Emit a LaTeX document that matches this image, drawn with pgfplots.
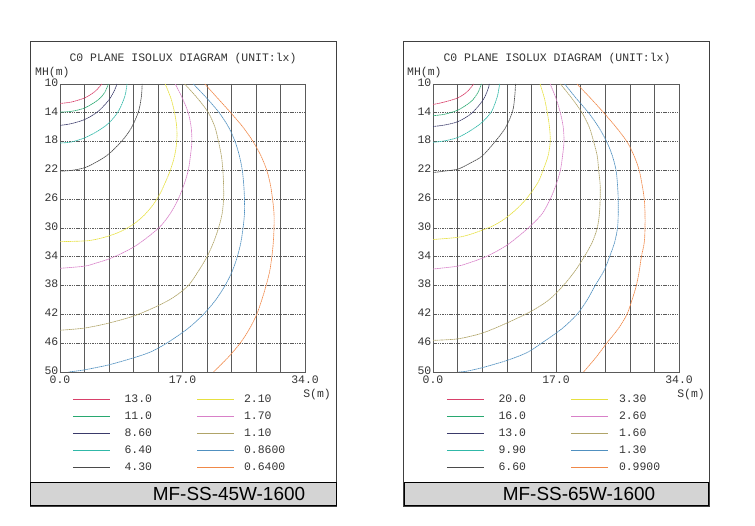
\documentclass[border=0pt]{standalone}
\usepackage{fontspec}
\setmainfont{Liberation Mono}
\newfontfamily\labelfont{Liberation Sans}
\usepackage{pgfplots}
\pgfplotsset{compat=1.18}

\definecolor{gridgray}{HTML}{5A5A5A}
\definecolor{textgray}{HTML}{333333}
\definecolor{framegray}{HTML}{404040}
\definecolor{bargray}{HTML}{D4D4D4}
\definecolor{isoA}{HTML}{D8406A}
\definecolor{isoB}{HTML}{28A870}
\definecolor{isoC}{HTML}{3A3A6A}
\definecolor{isoD}{HTML}{30B8A8}
\definecolor{isoE}{HTML}{4A4A4A}
\definecolor{isoF}{HTML}{E6E040}
\definecolor{isoG}{HTML}{D880C8}
\definecolor{isoH}{HTML}{B0A468}
\definecolor{isoI}{HTML}{5090C0}
\definecolor{isoJ}{HTML}{F08848}

\newcommand{\monosize}{\fontsize{11.5}{13}\selectfont}
\newcommand{\leftentry}[1]{\hspace*{14bp}\makebox[72bp][l]{#1}}
\newcommand{\rightentry}[2]{\hspace*{#1}\makebox[50bp][l]{#2}}

\pgfplotsset{
  isopanel/.style={
    scale only axis, height=288bp,
    xmin=0, xmax=34, ymin=10, ymax=50, y dir=reverse,
    xtick={0,17,34}, xticklabels={0.0,17.0,34.0},
    minor xtick={3.4,6.8,10.2,13.6,20.4,23.8,27.2,30.6},
    ytick={10,14,18,22,26,30,34,38,42,46,50},
    yticklabels={10,14,18,22,26,30,34,38,42,46,50},
    grid=both,
    major tick length=0pt, minor tick length=0pt,
    axis line style={draw=gridgray, line width=0.6bp},
    x grid style={draw=gridgray, line width=0.6bp},
    y grid style={draw=gridgray, line width=0.6bp, dash pattern=on 1.5bp off 0.8bp},
    tick label style={font=\monosize, text=textgray},
    yticklabel style={inner xsep=1.5bp, yshift=1.5bp},
    legend columns=2,
    legend style={draw=none, fill=none, inner sep=0pt, column sep=0pt, row sep=10bp,
      anchor=north west,
      nodes={inner sep=0pt, text height=7bp, text depth=0pt, font=\monosize, text=textgray}},
    legend image code/.code={\draw[#1, solid, line width=1.4bp] (0bp,0bp) -- (37bp,0bp);},
    every axis plot/.append style={line width=0.65bp, smooth, tension=0.5, no marks,
      dash pattern=on 1.6bp off 0.5bp},
  }
}

\begin{document}
\begin{tikzpicture}[x=1bp, y=1bp]
\useasboundingbox (0,0) rectangle (755,526);

% ---------- MF-SS-45W-1600 ----------
\draw[framegray, line width=1bp] (30,19) rectangle (336,484);
\filldraw[fill=bargray, draw=black, line width=1bp] (30,20) rectangle (336,43);
\node at (229,32) {\labelfont\fontsize{19}{22}\selectfont MF-SS-45W-1600};
\node[text=textgray] at (183,467) {\monosize C0 PLANE ISOLUX DIAGRAM (UNIT:lx)};
\node[anchor=west, text=textgray, inner sep=0pt] at (35,453) {\monosize MH(m)};
\node[text=textgray] at (317,131) {\monosize S(m)};

\begin{axis}[isopanel, width=245bp, at={(60bp,154bp)}, anchor=south west,
  legend style={at={(axis description cs:0.049,-0.0816)}}]
\addplot[color=isoA] coordinates {(0,12.7) (1.6,12.5) (3.5,11.9) (4.9,11.0) (5.8,10.0)};
\addlegendentry{\leftentry{13.0}}
\addplot[color=isoF] coordinates {(14.6,10) (15.4,12) (15.9,14) (16.2,16) (16.2,18) (15.9,20) (15.3,22) (14.6,23.7) (13.9,25.2) (12.9,26.8) (11.7,28.2) (10.3,29.4) (8.6,30.4) (6.8,31.1) (4.9,31.6) (3.4,31.8) (0,31.9)};
\addlegendentry{\rightentry{9bp}{2.10}}
\addplot[color=isoB] coordinates {(0,13.9) (1.6,13.8) (3.5,13.3) (5.3,12.2) (6.2,11.2) (6.7,10.0)};
\addlegendentry{\leftentry{11.0}}
\addplot[color=isoG] coordinates {(16.0,10) (17.0,12) (17.8,14) (18.2,16) (18.3,18) (18.1,20) (17.8,22) (17.2,24) (16.4,26) (15.3,28) (13.9,29.8) (12.0,31.4) (10.3,32.6) (8.6,33.5) (6.8,34.3) (4.9,34.9) (3.4,35.3) (0,35.6)};
\addlegendentry{\rightentry{9bp}{1.70}}
\addplot[color=isoC] coordinates {(0,15.75) (1.6,15.5) (3.5,14.9) (5.3,13.8) (6.8,12.2) (7.6,10.8) (7.9,10.0)};
\addlegendentry{\leftentry{8.60}}
\addplot[color=isoH] coordinates {(17.3,10) (19.1,12) (20.6,14) (21.5,16) (22.0,18) (22.4,20) (22.6,22) (22.7,24) (22.7,26) (22.5,28) (22.0,30) (21.3,32) (20.4,34) (19.2,36) (17.8,38) (15.8,39.6) (13.6,40.8) (10.3,42.2) (6.8,43.2) (3.4,43.9) (0,44.2)};
\addlegendentry{\rightentry{9bp}{1.10}}
\addplot[color=isoD] coordinates {(0,18.2) (1.6,18.05) (3.5,17.45) (5.3,16.5) (6.8,15.4) (8.1,13.8) (9.0,11.7) (9.3,10.0)};
\addlegendentry{\leftentry{6.40}}
\addplot[color=isoI] coordinates {(18.5,10) (20.4,12) (22.1,14) (23.4,16) (24.3,18) (24.9,20) (25.3,22) (25.5,24) (25.6,26) (25.6,28) (25.4,30) (25.1,32) (24.6,34) (23.9,36) (22.9,38) (21.6,40) (19.9,42) (17.7,44) (14.8,46) (12.6,47.2) (10.3,48.0) (6.8,49.0) (3.4,49.7) (1.2,50)};
\addlegendentry{\rightentry{9bp}{0.8600}}
\addplot[color=isoE] coordinates {(0,22.1) (1.6,22.0) (3.5,21.6) (5.3,20.7) (6.8,19.7) (8.6,17.9) (9.9,16.1) (10.9,13.8) (11.3,11.7) (11.4,10.0)};
\addlegendentry{\leftentry{4.30}}
\addplot[color=isoJ] coordinates {(20.1,10) (21.9,12) (23.7,14) (25.4,16) (26.8,18) (27.9,20) (28.7,22) (29.2,24) (29.5,26) (29.7,28) (29.7,30) (29.6,32) (29.4,34) (29.1,36) (28.6,38) (28.0,40) (27.3,42) (26.3,44) (25.0,46) (23.3,48) (21.3,50)};
\addlegendentry{\rightentry{9bp}{0.6400}}
\end{axis}

% ---------- MF-SS-65W-1600 ----------
\draw[framegray, line width=1bp] (403,19) rectangle (709,484);
\filldraw[fill=bargray, draw=black, line width=1bp] (404,20) rectangle (708,43);
\node at (579,32) {\labelfont\fontsize{19}{22}\selectfont MF-SS-65W-1600};
\node[text=textgray] at (557,467) {\monosize C0 PLANE ISOLUX DIAGRAM (UNIT:lx)};
\node[anchor=west, text=textgray, inner sep=0pt] at (407,453) {\monosize MH(m)};
\node[text=textgray] at (691,131) {\monosize S(m)};

\begin{axis}[isopanel, width=246bp, at={(433bp,154bp)}, anchor=south west,
  legend style={at={(axis description cs:0.0528,-0.0816)}}]
\addplot[color=isoA] coordinates {(0,12.85) (1.6,12.5) (3.5,11.9) (4.8,11.0) (5.6,10)};
\addlegendentry{\leftentry{20.0}}
\addplot[color=isoF] coordinates {(14.8,10) (15.4,12) (15.8,14) (16.1,16) (16.2,18) (15.9,20) (15.2,22) (14.6,23.5) (13.7,24.9) (12.6,26.3) (11.3,27.6) (9.8,28.8) (8.3,29.7) (6.8,30.3) (5.1,30.9) (3.4,31.3) (0,31.6)};
\addlegendentry{\rightentry{10bp}{3.30}}
\addplot[color=isoB] coordinates {(0,14.4) (1.6,14.2) (3.5,13.6) (5.3,12.4) (6.2,11.2) (6.7,10)};
\addlegendentry{\leftentry{16.0}}
\addplot[color=isoG] coordinates {(16.2,10) (17.0,12) (17.6,14) (18.0,16) (18.1,18) (17.9,20) (17.6,22) (17.0,24) (16.2,26) (15.1,28) (13.6,29.6) (12.0,31.0) (10.2,32.4) (8.3,33.5) (6.8,34.2) (5.1,34.8) (3.4,35.3) (0,35.7)};
\addlegendentry{\rightentry{10bp}{2.60}}
\addplot[color=isoC] coordinates {(0,15.9) (1.6,15.7) (3.5,15.2) (5.3,14.1) (6.8,12.4) (7.5,11.0) (7.8,10)};
\addlegendentry{\leftentry{13.0}}
\addplot[color=isoH] coordinates {(17.6,10) (19.2,12) (20.6,14) (21.6,16) (22.2,18) (22.7,20) (22.9,22) (23.1,24) (23.1,26) (23.0,28) (22.7,30) (22.0,32) (20.9,34) (19.6,36) (18.0,38) (16.0,40) (13.5,41.6) (10.2,43.2) (6.8,44.6) (3.4,45.4) (0,45.6)};
\addlegendentry{\rightentry{10bp}{1.60}}
\addplot[color=isoD] coordinates {(0,18.1) (1.6,17.9) (3.5,17.4) (5.3,16.4) (6.8,15.3) (8.1,13.8) (8.9,11.7) (9.2,10)};
\addlegendentry{\leftentry{9.90}}
\addplot[color=isoI] coordinates {(18.2,10) (19.8,12) (21.5,14) (22.9,16) (24.0,18) (24.8,20) (25.3,22) (25.5,24) (25.6,26) (25.6,28) (25.5,30) (25.1,32) (24.4,34) (23.6,36) (22.4,38) (21.3,40) (19.9,42) (17.8,44) (15.0,46) (13.0,47.3) (10.2,48.4) (6.8,49.4) (4.6,49.9) (3.5,50)};
\addlegendentry{\rightentry{10bp}{1.30}}
\addplot[color=isoE] coordinates {(0,22.3) (1.6,22.1) (3.5,21.8) (5.3,20.9) (6.8,20.0) (8.5,18.1) (10.0,16.1) (11.0,13.8) (11.3,11.7) (11.4,10)};
\addlegendentry{\leftentry{6.60}}
\addplot[color=isoJ] coordinates {(19.9,10) (21.8,12) (23.6,14) (25.3,16) (26.8,18) (27.8,20) (28.5,22) (28.9,24) (29.2,26) (29.3,28) (29.3,30) (29.2,32) (28.8,34) (28.5,36) (28.1,38) (27.5,40) (26.8,42) (25.6,44) (24.0,46) (22.5,48) (20.8,50)};
\addlegendentry{\rightentry{10bp}{0.9900}}
\end{axis}
\end{tikzpicture}
\end{document}
